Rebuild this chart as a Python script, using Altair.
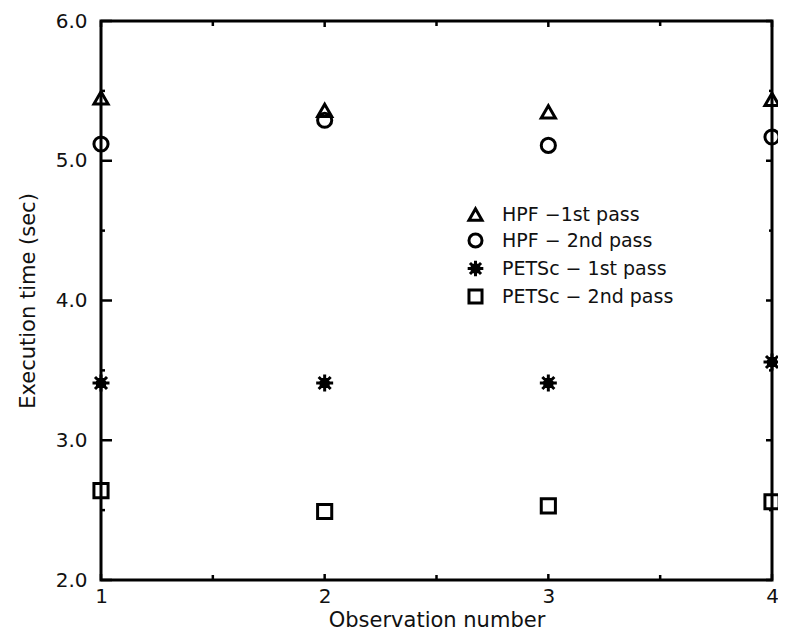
import altair as alt
import pandas as pd

# ---- data ----
observations = [1, 2, 3, 4]
series_names = ["HPF −1st pass", "HPF − 2nd pass", "PETSc − 1st pass", "PETSc − 2nd pass"]
hpf_1st = [5.45, 5.36, 5.35, 5.44]
hpf_2nd = [5.12, 5.29, 5.11, 5.17]
petsc_1st = [3.41, 3.41, 3.41, 3.56]
petsc_2nd = [2.64, 2.49, 2.53, 2.56]

y_major = [2.0, 3.0, 4.0, 5.0, 6.0]
y_minor = [2.5, 3.5, 4.5, 5.5]
x_major = [1, 2, 3, 4]
x_minor = [1.5, 2.5, 3.5]

rows = []
for name, vals in zip(series_names, [hpf_1st, hpf_2nd, petsc_1st, petsc_2nd]):
    for o, v in zip(observations, vals):
        rows.append({"obs": o, "value": v, "series": name})
df = pd.DataFrame(rows)

W, H = 671, 559
FONT = "DejaVu Sans"

xs = alt.Scale(domain=[1, 4], nice=False, zero=False)
ys = alt.Scale(domain=[2, 6], nice=False, zero=False)

asterisk = ("M-1.2,0L1.2,0M0,-1.2L0,1.2M-0.85,-0.85L0.85,0.85M-0.85,0.85L0.85,-0.85"
            "M-0.5,-0.5L0.5,-0.5L0.5,0.5L-0.5,0.5Z")

points = alt.Chart(df).mark_point(
    filled=False, color="black", strokeWidth=3, size=200, opacity=1
).encode(
    x=alt.X("obs:Q", scale=xs,
            axis=alt.Axis(values=x_major, format="d", title="Observation number",
                          titleY=40, titleBaseline="middle", labelFlush=False)),
    y=alt.Y("value:Q", scale=ys,
            axis=alt.Axis(values=y_major, format=".1f", title="Execution time (sec)",
                          titleX=-73, titleBaseline="middle", titleAngle=-90,
                          labelFlush=False)),
    shape=alt.Shape("series:N",
                    scale=alt.Scale(domain=series_names,
                                    range=["triangle-up", "circle", asterisk, "square"]),
                    legend=alt.Legend(orient="none", legendX=365, legendY=184, title=None,
                                      symbolSize=170, symbolStrokeWidth=3,
                                      symbolStrokeColor="black", symbolFillColor="transparent",
                                      labelFont=FONT, labelFontSize=19, labelColor="#111",
                                      labelLimit=0, labelOffset=17, rowPadding=0, padding=0)),
)

ymaj_df = pd.DataFrame({"v": y_major})
ymin_df = pd.DataFrame({"v": y_minor})
xmaj_df = pd.DataFrame({"v": x_major})
xmin_df = pd.DataFrame({"v": x_minor})

def yticks(d, x0, x1):
    return alt.Chart(d).mark_rule(color="black", strokeWidth=2.5).encode(
        y=alt.Y("v:Q", scale=ys), x=alt.value(x0), x2=alt.value(x1))

def xticks(d, y0, y1):
    return alt.Chart(d).mark_rule(color="black", strokeWidth=2.5).encode(
        x=alt.X("v:Q", scale=xs), y=alt.value(y0), y2=alt.value(y1))

ticks = [
    yticks(ymaj_df, 0, 11), yticks(ymin_df, 0, 4),
    yticks(ymaj_df, W - 6, W), yticks(ymin_df, W - 3, W),
    xticks(xmaj_df, H, H - 6), xticks(xmin_df, H, H - 5),
    xticks(xmaj_df, 0, 6), xticks(xmin_df, 0, 5),
]

chart = alt.layer(points, *ticks).properties(
    width=W, height=H,
    autosize=alt.AutoSizeParams(type="none"),
    padding={"left": 93, "top": 13, "right": 6, "bottom": 53},
).configure_view(
    stroke="black", strokeWidth=3
).configure_axis(
    domain=False, ticks=False, tickSize=0, grid=False,
    labelFont=FONT, labelFontSize=20, labelColor="#111",
    titleFont=FONT, titleFontSize=21, titleFontWeight="normal", titleColor="#111",
).configure_axisY(labelPadding=14).configure_axisX(labelPadding=6)

chart.save("out.html", embed_options={"renderer": "svg", "actions": False})
